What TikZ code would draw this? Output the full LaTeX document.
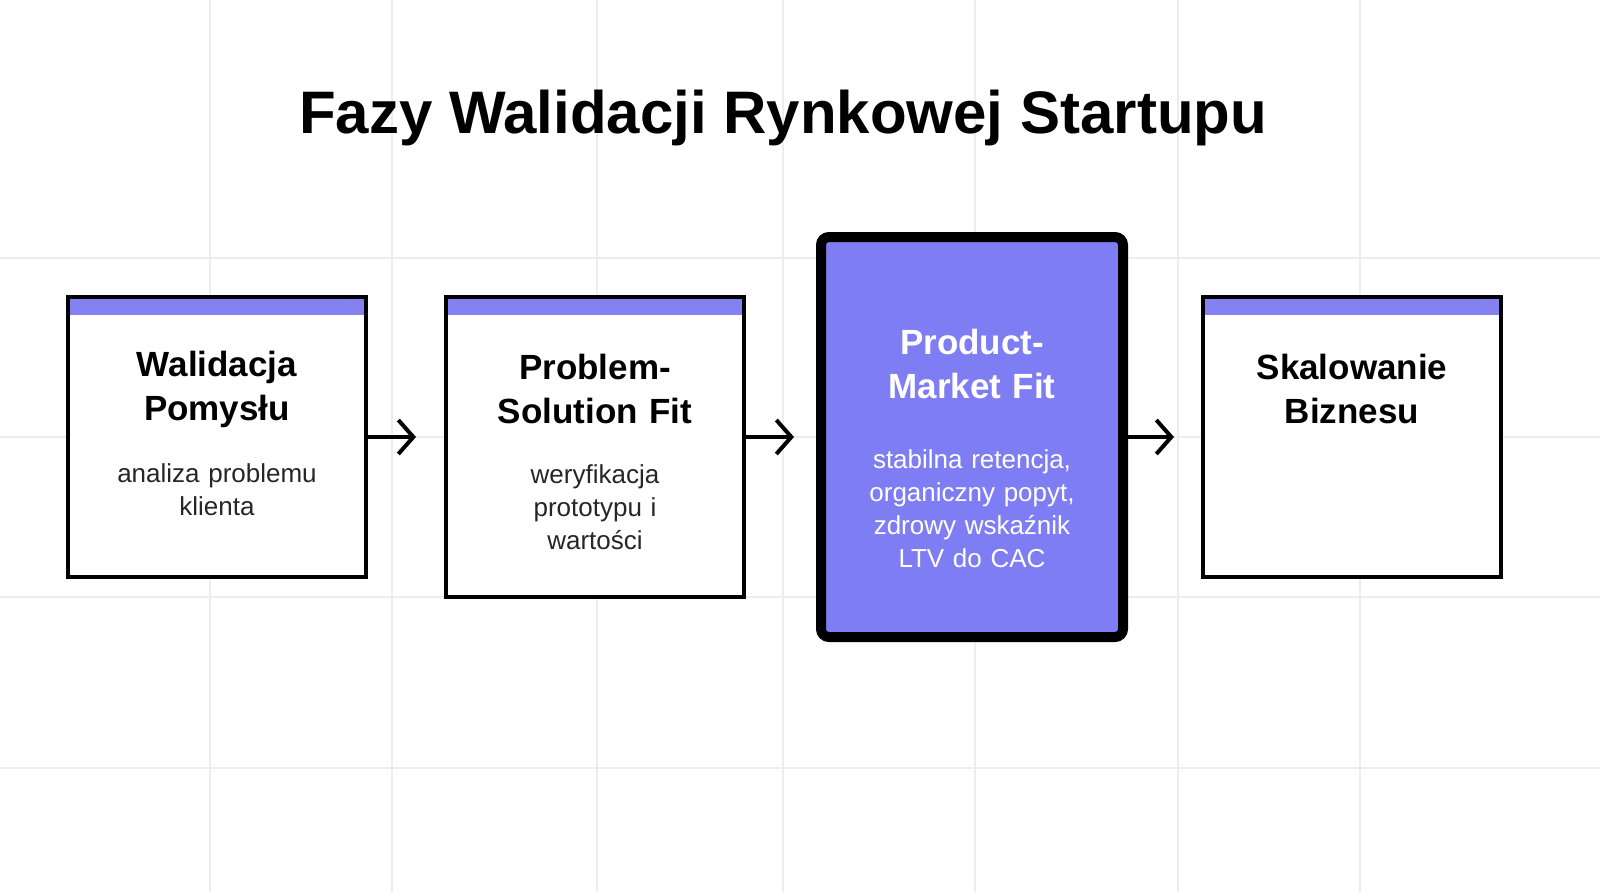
\documentclass[tikz,border=0pt]{standalone}
\usepackage{fontspec}
\setmainfont{Liberation Sans}
\usetikzlibrary{arrows.meta}
\begin{document}
\begin{tikzpicture}[x=1pt,y=-1pt,
 box/.style={draw=black,line width=4pt,fill=white},
 bar/.style={fill=barc},
 head/.style={font=\fontsize{35}{44}\selectfont\bfseries,align=center,text width=280pt},
 body/.style={font=\fontsize{26}{33}\selectfont,align=center,text width=280pt,text=black!85},
 arr/.style={line width=4pt,-{Straight Barb[length=15pt,width=34pt,line width=4pt]}},
 grid/.style={draw=black!7,line width=1.5pt}]
\definecolor{barc}{HTML}{8482F2}
\definecolor{pmf}{HTML}{7F7DF4}
\useasboundingbox (0,0) rectangle (1600,892);
\clip (0,0) rectangle (1600,892);
\fill[white] (0,0) rectangle (1600,892);
\foreach \x in {210,392,597,783,975,1178,1360} \draw[grid] (\x,0)--(\x,892);
\foreach \y in {258,437,597,768} \draw[grid] (0,\y)--(1600,\y);
\node[font=\fontsize{60}{70}\selectfont\bfseries] (title) at (783,118) {Fazy Walidacji Rynkowej Startupu};
% box 1
\draw[box] (68,297) rectangle (366,577);
\fill[bar] (70,299) rectangle (364,315);
\node[head] (h1) at (217,389) {Walidacja\\Pomysłu};
\node[body] (t1) at (217,490) {analiza problemu\\klienta};
% box 2
\draw[box] (446,297) rectangle (744,597);
\fill[bar] (448,299) rectangle (742,315);
\node[head] (h2) at (595,389) {Problem-\\Solution Fit};
\node[body] (t2) at (595,507) {weryfikacja\\prototypu i\\wartości};
% box 3
\draw[line width=10pt,fill=pmf,rounded corners=8pt] (821,237) rectangle (1123,637);
\node[head,text=white] (h3) at (972,364) {Product-\\Market Fit};
\node[body,text=white] (t3) at (972,509) {stabilna retencja,\\organiczny popyt,\\zdrowy wskaźnik\\LTV do CAC};
% box 4
\draw[box] (1203,297) rectangle (1501,577);
\fill[bar] (1205,299) rectangle (1499,315);
\node[head] (h4) at (1352,389) {Skalowanie\\Biznesu};
\coordinate (a1s) at (366,437); \coordinate (a1e) at (416,437);
\coordinate (a2s) at (744,437); \coordinate (a2e) at (794,437);
\coordinate (a3s) at (1128,437); \coordinate (a3e) at (1174,437);
\draw[arr] (a1s)--(a1e);
\draw[arr] (a2s)--(a2e);
\draw[arr] (a3s)--(a3e);
\end{tikzpicture}
\end{document}
